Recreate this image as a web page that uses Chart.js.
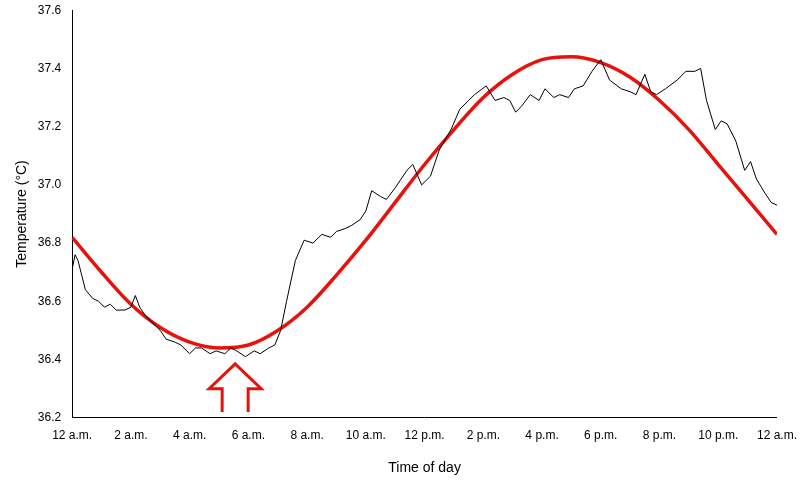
<!DOCTYPE html>
<html><head><meta charset="utf-8">
<script src="https://cdn.jsdelivr.net/npm/chart.js@4"></script>
<style>html,body{margin:0;background:#fff}#w{width:800px;height:483px}</style>
</head><body><div id="w"><canvas id="c"></canvas></div>
<script>
const tickLabels=["12 a.m.","2 a.m.","4 a.m.","6 a.m.","8 a.m.","10 a.m.","12 p.m.","2 p.m.","4 p.m.","6 p.m.","8 p.m.","10 p.m.","12 a.m."];
const traceHours=[0,0.1,0.2,0.3,0.45,0.7,0.9,1.1,1.3,1.5,1.8,2.0,2.15,2.3,2.5,2.8,3.0,3.2,3.5,3.7,4.0,4.2,4.4,4.7,4.9,5.2,5.4,5.6,5.9,6.2,6.4,6.7,6.9,7.1,7.3,7.6,7.9,8.2,8.5,8.8,9.0,9.3,9.5,9.8,10.0,10.2,10.5,10.7,11.0,11.2,11.4,11.6,11.9,12.2,12.5,12.9,13.2,13.5,13.7,14.1,14.4,14.7,14.9,15.1,15.3,15.6,15.9,16.1,16.4,16.6,16.9,17.1,17.4,17.7,18.0,18.3,18.7,19.0,19.2,19.5,19.7,19.9,20.2,20.6,20.9,21.2,21.4,21.6,21.9,22.1,22.3,22.6,22.9,23.1,23.3,23.6,23.8,24.0];
const traceTemps=[36.71,36.76,36.74,36.70,36.64,36.61,36.60,36.58,36.59,36.57,36.57,36.58,36.62,36.58,36.55,36.52,36.50,36.47,36.46,36.45,36.42,36.44,36.44,36.42,36.43,36.42,36.44,36.43,36.41,36.43,36.42,36.44,36.45,36.50,36.60,36.74,36.81,36.80,36.83,36.82,36.84,36.85,36.86,36.88,36.91,36.98,36.96,36.95,36.99,37.02,37.05,37.07,37.00,37.03,37.12,37.19,37.26,37.29,37.31,37.34,37.29,37.30,37.29,37.25,37.27,37.31,37.29,37.33,37.30,37.31,37.30,37.33,37.34,37.39,37.43,37.36,37.33,37.32,37.31,37.38,37.32,37.31,37.33,37.36,37.39,37.39,37.40,37.29,37.19,37.22,37.21,37.15,37.05,37.08,37.02,36.97,36.94,36.93];
const fitHours=[0,1,2,3,4,5,6,7,8,9,10,11,12,13,14,15,16,17,18,19,20,21,22,23,24];
const fitTemps=[36.82,36.70,36.59,36.51,36.46,36.44,36.45,36.50,36.58,36.69,36.81,36.94,37.07,37.19,37.30,37.38,37.43,37.44,37.42,37.37,37.29,37.19,37.07,36.95,36.83];
const arrowTip={h:5.55,t:36.385};
const arrowPlugin={id:'arrow',afterDatasetsDraw(ch){
  const x=ch.scales.x,y=ch.scales.y,c=ch.ctx;
  const px=v=>x.getPixelForValue(v),py=v=>y.getPixelForValue(v);
  const cx=px(arrowTip.h),ty=py(arrowTip.t);
  const sy=py(36.30),by=py(36.22);
  c.save();c.strokeStyle='#e8120c';c.lineWidth=3;c.beginPath();
  c.moveTo(cx-13,by);c.lineTo(cx-13,sy);c.lineTo(cx-26,sy);c.lineTo(cx,ty);
  c.lineTo(cx+26,sy);c.lineTo(cx+13,sy);c.lineTo(cx+13,by);c.stroke();c.restore();}};
new Chart(document.getElementById('c'),{type:'line',
 data:{datasets:[
  {data:traceHours.map((h,i)=>({x:h,y:traceTemps[i]})),borderColor:'#000',borderWidth:1,pointRadius:0,tension:0},
  {data:fitHours.map((h,i)=>({x:h,y:fitTemps[i]})),borderColor:'#e8120c',borderWidth:3.5,pointRadius:0,cubicInterpolationMode:'monotone'}]},
 options:{responsive:true,maintainAspectRatio:false,animation:false,
  layout:{padding:{top:4,right:22,left:10,bottom:2}},
  plugins:{legend:{display:false},tooltip:{enabled:false}},
  scales:{
   x:{type:'linear',min:0,max:24,grid:{display:false,drawTicks:true},border:{color:'#000'},
      ticks:{stepSize:2,color:'#000',font:{family:'Liberation Sans',size:12},maxRotation:0,callback:v=>tickLabels[v/2]},
      title:{display:true,text:'Time of day',color:'#000',font:{family:'Liberation Sans',size:14},padding:{top:14}}},
   y:{min:36.2,max:37.6,grid:{display:false},border:{color:'#000'},
      ticks:{stepSize:0.2,color:'#000',font:{family:'Liberation Sans',size:12},callback:v=>v.toFixed(1)},
      title:{display:true,text:'Temperature (°C)',color:'#000',font:{family:'Liberation Sans',size:14}}}}},
 plugins:[arrowPlugin]});
</script></body></html>
